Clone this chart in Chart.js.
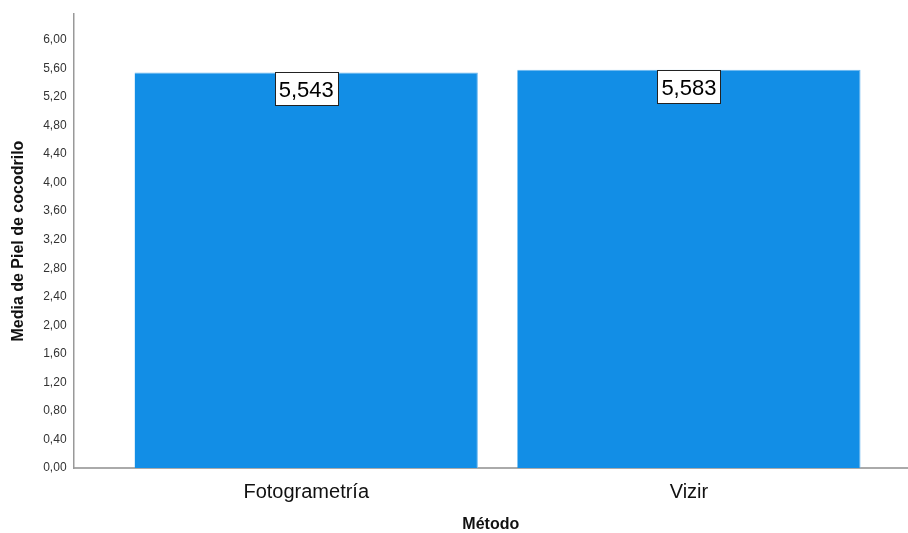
<!DOCTYPE html>
<html lang="es">
<head>
    <meta charset="UTF-8">
    <title>Media de Piel de cocodrilo por Método</title>
    <script src="https://cdn.jsdelivr.net/npm/chart.js"></script>
    <style>
        html, body { margin: 0; padding: 0; background: #fff; }
        #wrap { width: 908px; height: 533px; }
    </style>
</head>
<body>
    <div id="wrap"><canvas id="grafico"></canvas></div>

    <script>
        // datos
        const metodos = ['Fotogrametría', 'Vizir'];
        const posiciones = [1, 2];
        const medias = [5.543, 5.583];
        const yTicks = [0, 0.4, 0.8, 1.2, 1.6, 2.0, 2.4, 2.8, 3.2, 3.6, 4.0, 4.4, 4.8, 5.2, 5.6, 6.0];

        const coma = (v, d) => v.toFixed(d).replace('.', ',');
        const fuente = '"Liberation Sans", Arial, sans-serif';

        // etiqueta con el valor dentro de un recuadro, arriba de cada barra
        const etiquetas = {
            id: 'etiquetas',
            afterDatasetsDraw(chart) {
                const ctx = chart.ctx;
                const meta = chart.getDatasetMeta(0);
                ctx.save();
                ctx.font = '22px ' + fuente;
                ctx.textAlign = 'center';
                ctx.textBaseline = 'middle';
                meta.data.forEach((bar, i) => {
                    const txt = coma(medias[i], 3);
                    const w = Math.round(ctx.measureText(txt).width + 8);
                    const h = 33;
                    const x = Math.round(bar.x - w / 2);
                    const y = Math.round(bar.y);
                    ctx.fillStyle = '#fff';
                    ctx.fillRect(x, y, w, h);
                    ctx.strokeStyle = '#222';
                    ctx.lineWidth = 1;
                    ctx.strokeRect(x + 0.5, y + 0.5, w, h);
                    ctx.fillStyle = '#000';
                    ctx.fillText(txt, bar.x, y + h / 2 + 2);
                });
                ctx.restore();
            }
        };

        new Chart(document.getElementById('grafico'), {
            type: 'bar',
            data: {
                datasets: [{
                    data: posiciones.map((p, i) => ({ x: p, y: medias[i] })),
                    backgroundColor: '#128ee6',
                    borderColor: '#6bb8f0',
                    borderWidth: { right: 1, top: 1 },
                    barPercentage: 0.897,
                    categoryPercentage: 1
                }]
            },
            options: {
                responsive: true,
                maintainAspectRatio: false,
                animation: false,
                layout: { padding: { left: 9, right: 0, top: 13, bottom: 0 } },
                plugins: {
                    legend: { display: false },
                    tooltip: { enabled: false }
                },
                scales: {
                    x: {
                        type: 'linear',
                        offset: false,
                        min: 0.392,
                        max: 2.5725,
                        grid: { display: false, drawTicks: false, offset: false },
                        border: { color: '#aaa', width: 2 },
                        afterBuildTicks: axis => { axis.ticks = posiciones.map(v => ({ value: v })); },
                        ticks: {
                            padding: 12,
                            color: '#111',
                            font: { family: fuente, size: 20 },
                            callback: v => metodos[posiciones.indexOf(v)] || ''
                        },
                        title: {
                            display: true,
                            text: 'Método',
                            color: '#111',
                            padding: { top: 1, bottom: 0 },
                            font: { family: fuente, size: 16, weight: 'bold', lineHeight: 1 }
                        }
                    },
                    y: {
                        min: 0,
                        max: 6.36,
                        grid: { display: false, drawTicks: false },
                        border: { color: '#999', width: 1.5 },
                        afterBuildTicks: axis => { axis.ticks = yTicks.map(v => ({ value: v })); },
                        ticks: {
                            padding: 7,
                            color: '#333',
                            font: { family: fuente, size: 12 },
                            callback: v => coma(v, 2)
                        },
                        title: {
                            display: true,
                            text: 'Media de Piel de cocodrilo',
                            color: '#111',
                            padding: { top: 0, bottom: 8 },
                            font: { family: fuente, size: 16, weight: 'bold' }
                        }
                    }
                }
            },
            plugins: [etiquetas]
        });
    </script>
</body>
</html>
